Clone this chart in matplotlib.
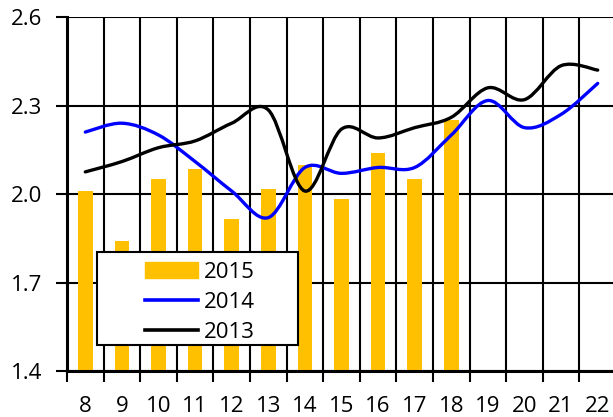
import matplotlib.pyplot as plt
from matplotlib.path import Path
from matplotlib.patches import PathPatch, Patch, Rectangle
from matplotlib.lines import Line2D
import numpy as np

plt.rcParams['font.family'] = ['Open Sans', 'DejaVu Sans']

days = [8, 9, 10, 11, 12, 13, 14, 15, 16, 17, 18, 19, 20, 21, 22]
vals_2015 = [2.01, 1.84, 2.05, 2.085, 1.915, 2.017, 2.10, 1.983, 2.14, 2.05, 2.25]
vals_2014 = [2.21, 2.24, 2.20, 2.11, 2.01, 1.92, 2.09, 2.07, 2.09, 2.09, 2.20,
             2.317, 2.225, 2.27, 2.375]
vals_2013 = [2.075, 2.11, 2.157, 2.18, 2.24, 2.285, 2.01, 2.22, 2.19, 2.225, 2.26,
             2.36, 2.32, 2.435, 2.42]


def smooth_path(xs, ys):
    # smoothed line like in Excel: Bezier segments with Catmull-Rom control points
    pts = np.column_stack([xs, ys]).astype(float)
    n = len(pts)
    verts = [pts[0]]
    codes = [Path.MOVETO]
    for i in range(n - 1):
        p0 = pts[i - 1] if i > 0 else pts[i]
        p1 = pts[i]
        p2 = pts[i + 1]
        p3 = pts[i + 2] if i + 2 < n else pts[i + 1]
        verts += [p1 + (p2 - p0) / 6.0, p2 - (p3 - p1) / 6.0, p2]
        codes += [Path.CURVE4] * 3
    return Path(verts, codes)


fig = plt.figure(figsize=(6.13, 4.17), dpi=100)
ax = fig.add_axes([0.1093, 0.1103, 0.8956, 0.8489])

x = np.arange(len(days))
ax.bar(x[:len(vals_2015)], vals_2015, width=0.4, color='#FFC000', zorder=2)

for vals, col in [(vals_2014, '#0000FF'), (vals_2013, 'black')]:
    ax.add_patch(PathPatch(smooth_path(x, vals), facecolor='none', edgecolor=col,
                           lw=2.4, capstyle='round', zorder=3))

ax.set_xlim(-0.5, len(days) - 0.5)
ax.set_ylim(1.4, 2.6)
ax.set_yticks([1.4, 1.7, 2.0, 2.3, 2.6])
ax.set_yticklabels(['1.4', '1.7', '2.0', '2.3', '2.6'])
ax.set_xticks(np.arange(-0.5, len(days), 1.0))
ax.set_xticklabels([])
ax.set_xticks(x, minor=True)
ax.set_xticklabels([str(d) for d in days], minor=True)

ax.tick_params(axis='x', which='major', length=8, width=1.5, color='black')
ax.tick_params(axis='x', which='minor', length=0, pad=18, labelsize=16)
ax.tick_params(axis='y', which='major', length=8, width=1.5, pad=10, labelsize=16)

ax.grid(True, which='major', color='black', lw=1.5)
ax.set_axisbelow(True)
for s in ['top', 'right']:
    ax.spines[s].set_visible(False)
ax.spines['left'].set_linewidth(2.2)
ax.spines['bottom'].set_linewidth(2.2)

# legend box (wider than the entries, as in the original)
ax.add_patch(Rectangle((0.0546, 0.0734), 0.366, 0.263, transform=ax.transAxes,
                       facecolor='white', edgecolor='black', lw=1.5, zorder=4))

handles = [Patch(color='#FFC000'),
           Line2D([], [], color='#0000FF', lw=2.6),
           Line2D([], [], color='black', lw=2.6)]
leg = ax.legend(handles, ['2015', '2014', '2013'], loc='center left',
                bbox_to_anchor=(0.1415, 0.194), borderaxespad=0, fontsize=16,
                frameon=False, handlelength=2.4, handleheight=0.75,
                handletextpad=0.25, labelspacing=0.4, borderpad=0)
leg.set_zorder(5)

fig.savefig('out.png', dpi=100)
